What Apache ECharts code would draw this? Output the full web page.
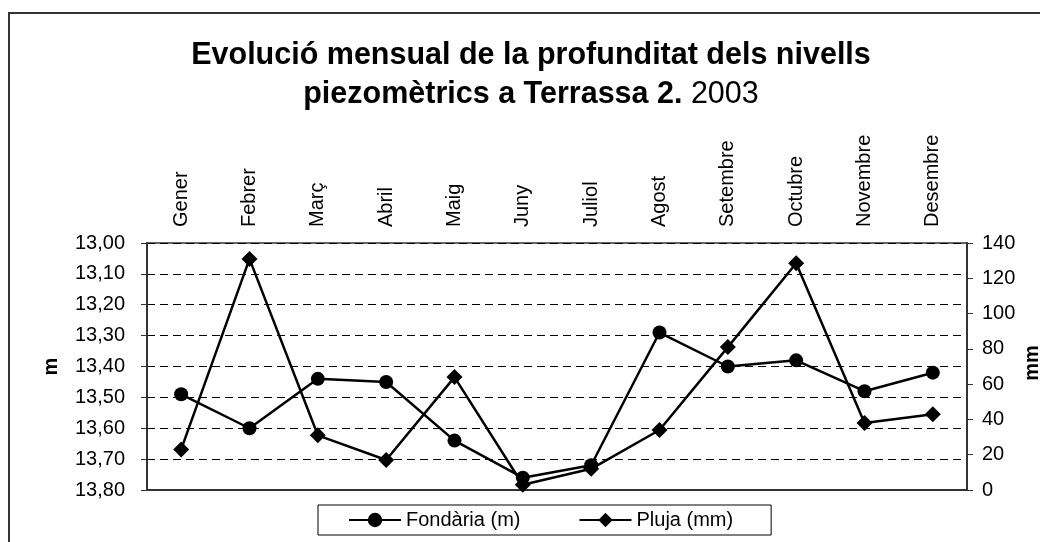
<!DOCTYPE html>
<html>
<head>
    <meta charset="utf-8"/>
    <script src="https://cdn.jsdelivr.net/npm/echarts@6/dist/echarts.min.js"></script>
</head>
<body style="margin:0">
<div id="main" style="width:1040px;height:542px;"></div>
<script type="text/javascript">
    var months = ['Gener', 'Febrer', 'Març', 'Abril', 'Maig', 'Juny', 'Juliol', 'Agost', 'Setembre', 'Octubre', 'Novembre', 'Desembre'];
    var fondaria = [13.49, 13.60, 13.44, 13.45, 13.64, 13.76, 13.72, 13.29, 13.40, 13.38, 13.48, 13.42];
    var pluja = [23, 131, 31, 17, 64, 3, 12, 34, 81, 128.5, 38, 43];

    var chart = echarts.init(document.getElementById('main'));
    var font = 'Liberation Sans, Arial, sans-serif';

    var option = {
        backgroundColor: '#fff',
        textStyle: { fontFamily: font, color: '#000' },
        graphic: [{
            type: 'rect',
            shape: { x: 9, y: 13, width: 1100, height: 600 },
            style: { fill: 'none', stroke: '#333', lineWidth: 2 }
        }, {
            // titol en dues linies, la data sense negreta
            type: 'text',
            x: 531,
            y: 36,
            style: {
                text: '{b|Evolució mensual de la profunditat dels nivells}\n{b|piezomètrics a Terrassa 2.}{n| 2003}',
                align: 'center',
                verticalAlign: 'top',
                rich: {
                    b: { fontFamily: font, fontSize: 30.5, fontWeight: 'bold', fill: '#000', lineHeight: 39 },
                    n: { fontFamily: font, fontSize: 30.5, fontWeight: 'normal', fill: '#000', lineHeight: 39 }
                }
            }
        }, {
            // nom de l'eix dret, dibuixat a part perque no quedi amagat
            type: 'text',
            x: 1032,
            y: 363,
            rotation: Math.PI / 2,
            style: {
                text: 'mm',
                align: 'center',
                verticalAlign: 'middle',
                fontFamily: font,
                fontSize: 20,
                fontWeight: 'bold',
                fill: '#000'
            }
        }],
        legend: {
            left: 318,
            top: 505,
            padding: [5, 38, 5, 30],
            itemWidth: 52,
            itemHeight: 18,
            itemGap: 58,
            borderColor: '#000',
            borderWidth: 1,
            borderRadius: 0,
            textStyle: { fontFamily: font, fontSize: 20, color: '#000' },
            data: ['Fondària (m)', 'Pluja (mm)']
        },
        grid: {
            left: 147, right: 73, top: 243, bottom: 52,
            outerBoundsMode: 'none',
            show: true, borderColor: '#333', borderWidth: 1.5
        },
        xAxis: {
            type: 'category',
            position: 'top',
            data: months,
            boundaryGap: true,
            axisLine: { lineStyle: { color: '#333', width: 2 } },
            axisTick: { length: 6, lineStyle: { color: '#333' } },
            axisLabel: { rotate: 90, margin: 16, fontSize: 20, color: '#000', interval: 0 },
            splitLine: { show: false }
        },
        yAxis: [{
            type: 'value',
            min: 13, max: 13.8, interval: 0.1,
            inverse: true,
            name: 'm',
            nameLocation: 'middle',
            nameGap: 86,
            nameRotate: 90,
            nameTextStyle: { fontSize: 20, fontWeight: 'bold', color: '#000' },
            axisLine: { show: true, lineStyle: { color: '#333', width: 2 } },
            axisTick: { show: true, length: 6, lineStyle: { color: '#333' } },
            axisLabel: {
                fontSize: 20, color: '#000', margin: 22,
                formatter: function (v) { return v.toFixed(2).replace('.', ','); }
            },
            splitLine: { lineStyle: { color: '#000', type: [8, 5], width: 1 } }
        }, {
            type: 'value',
            min: 0, max: 140, interval: 20,
            axisLine: { show: true, lineStyle: { color: '#333', width: 2 } },
            axisTick: { show: true, length: 6, lineStyle: { color: '#333' } },
            axisLabel: { fontSize: 20, color: '#000', margin: 15 },
            splitLine: { show: false }
        }],
        series: [{
            name: 'Fondària (m)',
            type: 'line',
            yAxisIndex: 0,
            data: fondaria,
            symbol: 'circle',
            symbolSize: 14,
            itemStyle: { color: '#000' },
            lineStyle: { color: '#000', width: 2.5 }
        }, {
            name: 'Pluja (mm)',
            type: 'line',
            yAxisIndex: 1,
            data: pluja,
            symbol: 'diamond',
            symbolSize: 16,
            itemStyle: { color: '#000' },
            lineStyle: { color: '#000', width: 2.5 }
        }]
    };

    chart.setOption(option);
</script>
</body>
</html>
